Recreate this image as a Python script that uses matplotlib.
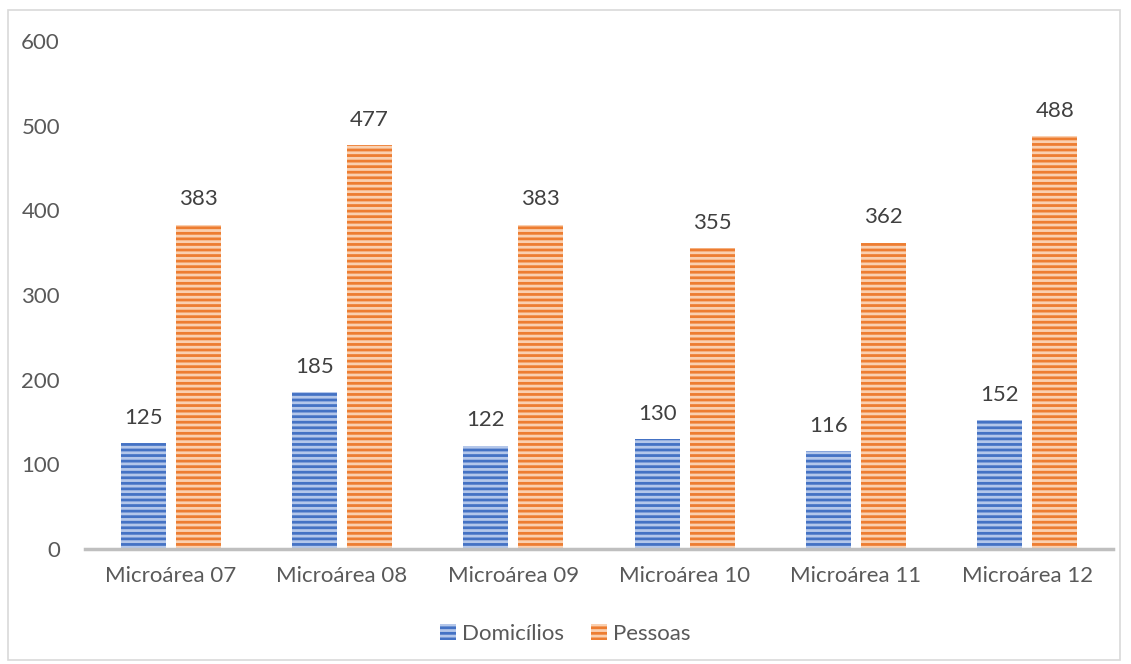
import matplotlib
matplotlib.use("Agg")
import matplotlib.pyplot as plt
import numpy as np
from matplotlib.patches import Rectangle

categories = ["Microárea 07", "Microárea 08", "Microárea 09",
              "Microárea 10", "Microárea 11", "Microárea 12"]
domicilios = [125, 185, 122, 130, 116, 152]
pessoas = [383, 477, 383, 355, 362, 488]
yticks = [0, 100, 200, 300, 400, 500, 600]

plt.rcParams['font.family'] = ['Lato', 'DejaVu Sans']
plt.rcParams['hatch.linewidth'] = 2.0
text_color = "#595959"
fs = 16

W, H = 1131, 664
fig = plt.figure(figsize=(W / 100, H / 100), dpi=100)
ax = fig.add_axes([85 / W, 1 - 549 / H, (1113 - 85) / W, (549 - 41) / H])

x = np.arange(len(categories))
width = 0.262
off = 0.16

series = [
    (domicilios, -off, "#4472C4", "#b4c7ea", "Domicílios"),
    (pessoas, off, "#ED7D31", "#fad0b0", "Pessoas"),
]
for vals, dx, color, stripe, label in series:
    bars = ax.bar(x + dx, vals, width, color=color, edgecolor=stripe,
                  hatch="---", linewidth=0, label=label, zorder=2)
    for b, v in zip(bars, vals):
        ax.annotate(str(v), (b.get_x() + b.get_width() / 2, v),
                    xytext=(0, 11), textcoords="offset points",
                    ha="center", va="bottom", fontsize=fs, color="#404040")

ax.set_xlim(-0.5, len(categories) - 0.5)
ax.set_ylim(0, 600)
ax.set_yticks(yticks)
ax.set_xticks(x)
ax.set_xticklabels(categories)
ax.tick_params(axis="both", length=0, labelsize=fs, labelcolor=text_color)
ax.tick_params(axis="y", pad=18)
ax.tick_params(axis="x", pad=12)
for s in ["top", "right", "left"]:
    ax.spines[s].set_visible(False)
ax.spines["bottom"].set_color("#bfbfbf")
ax.spines["bottom"].set_linewidth(2.5)
ax.spines["bottom"].set_zorder(3)

leg = fig.legend(loc="center", bbox_to_anchor=(0.5, 1 - 634 / H), ncol=2,
                 frameon=False, fontsize=fs, handlelength=0.7, handleheight=0.7,
                 columnspacing=1.2, handletextpad=0.3)
for t in leg.get_texts():
    t.set_color(text_color)

fig.patches.append(Rectangle((8 / W, 1 - 660 / H), (1120 - 8) / W, (660 - 10) / H,
                             transform=fig.transFigure, fill=False,
                             edgecolor="#d9d9d9", linewidth=1.2))

fig.savefig("out.png", dpi=100)
